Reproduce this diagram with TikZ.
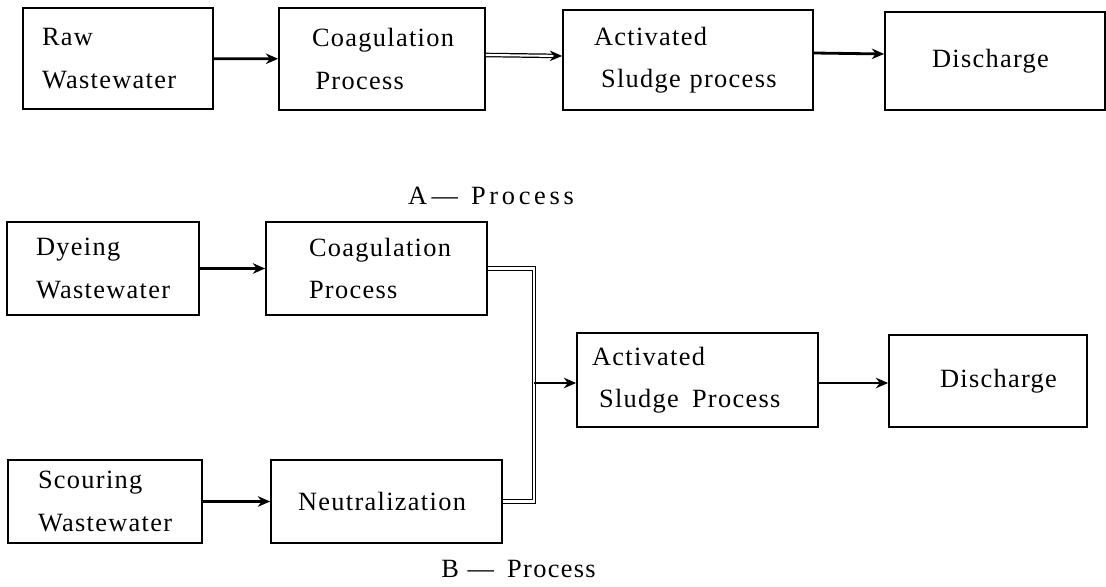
\documentclass[tikz,border=0pt]{standalone}
\usepackage{fontspec}
\setmainfont{Liberation Serif}[LetterSpace=5]
\newfontfamily\widefont{Liberation Serif}[LetterSpace=14]
\usetikzlibrary{arrows.meta, positioning}
\tikzset{
    flowdiagram/.style={>={Stealth[length=7pt,width=6pt]}, font=\fontsize{15}{24}\selectfont},
    block/.style={draw, line width=1pt, align=left, inner ysep=0pt},
    flow/.style={->, line width=1.6pt},
    % hollow pipe: double line as in the scan
    pipe/.style={double, double distance=1.2pt, line width=0.7pt},
    caption/.style={font=\fontsize{15}{18}\selectfont, inner sep=1pt},
}

\begin{document}
\hyphenpenalty=10000
\begin{tikzpicture}[flowdiagram]
    \useasboundingbox (0,0) rectangle (22.12,11.72);

    % A - process
    \node[block, minimum height=2.02cm, inner xsep=0.38cm, text width=3.04cm] (raw)   at (2.36,10.55) {Raw\\Wastewater};
    \node[block, minimum height=2.04cm, inner xsep=0.66cm, text width=2.8cm]  (coagA) at (7.64,10.54) {Coagulation\\\hspace{2pt}Process};
    \node[block, minimum height=2cm, inner xsep=0.62cm, text width=3.76cm]    (actA)  at (13.76,10.52) {Activated\\\hspace{4pt}Sludge~process};
    \node[block, minimum height=1.96cm, inner xsep=0.94cm, text width=2.52cm] (disA)  at (19.9,10.5) {Discharge};

    \draw[flow] (raw) -- (coagA);
    \draw[flow, pipe] ([yshift=0.08cm]coagA.east) -- ([yshift=0.08cm]actA.west);
    \draw[flow] ([yshift=0.14cm]actA.east) -- ([yshift=0.14cm]disA.west);

    \node[caption] (capA) at (9.82,7.8) {A\,—\,\,\,{\widefont Process}};

    % B - process
    \node[block, minimum height=1.86cm, inner xsep=0.58cm, text width=2.68cm] (dye)   at (2.06,6.35) {Dyeing\\Wastewater};
    \node[block, minimum height=1.86cm, inner xsep=0.86cm, text width=2.7cm]  (coagB) at (7.53,6.35) {Coagulation\\Process};
    \node[block, minimum height=1.66cm, inner xsep=0.6cm, text width=2.68cm]  (scour) at (2.1,1.69) {Scouring\\Wastewater};
    \node[block, minimum height=1.66cm, inner xsep=0.54cm, text width=3.54cm] (neut)  at (7.73,1.69) {Neutralization};
    \node[block, minimum height=1.88cm, inner xsep=0.3cm, text width=4.22cm]  (actB)  at (13.95,4.12) {Activated\\\hspace{4pt}Sludge~\,Process};
    \node[block, minimum height=1.84cm, inner xsep=1.02cm, text width=1.92cm] (disB)  at (19.76,4.1) {Discharge};
    \coordinate (jn) at (10.68,4.06);

    \draw[flow] (dye) -- (coagB);
    \draw[flow] (scour) -- (neut);
    \draw[pipe] (coagB.east) -| (jn);
    \draw[pipe] (neut.east) -| (jn);
    \draw[flow] (jn) -- (actB.west |- jn);
    \draw[flow] (actB.east |- jn) -- (disB.west |- jn);

    \node[caption] (capB) at (10.37,0.34) {B\,\,—\,\,\,Process};
\end{tikzpicture}
\end{document}
